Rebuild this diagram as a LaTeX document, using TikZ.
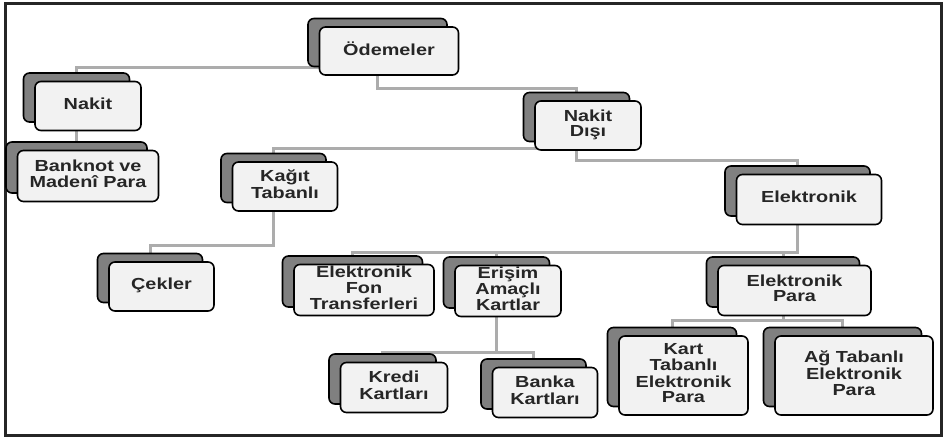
\documentclass[tikz,border=0pt]{standalone}
\usepackage{fontspec}
\setmainfont{Liberation Sans}
\usepackage{graphicx}
\usetikzlibrary{backgrounds}
\newcommand\tx[1]{\scalebox{1.24}[1]{\fontsize{16}{15.8}\selectfont\bfseries\begin{tabular}{@{}c@{}}#1\end{tabular}}}
\tikzset{
  backbox/.style={draw=black, line width=1.6pt, rounded corners=6pt, fill=black!50, inner sep=0pt},
  frontbox/.style={draw=black, line width=1.6pt, rounded corners=6pt, fill=black!5, inner sep=0pt, text=black!85},
  conn/.style={draw={rgb,255:red,172;green,172;blue,172}, line width=3pt},
  frame/.style={draw=black!85, line width=2.2pt}
}
\newcommand\mybox[6]{%
  \node[backbox, minimum width=#4pt, minimum height=#5pt] (#1) at (#2,#3) {};
  \node[frontbox, minimum width=#4pt, minimum height=#5pt] (#1-f) at ([xshift=11.5pt,yshift=-8.5pt]#1.center) {\tx{#6}};
}
\begin{document}
\begin{tikzpicture}[x=1pt,y=-1pt]
\useasboundingbox (0,0) rectangle (944,437);
\draw[frame] (5.5,3.5) rectangle (941.5,435.5);

\mybox{od}{377.5}{42.5}{139}{48}{Ödemeler}
\mybox{nakit}{76.5}{97.5}{106}{49}{Nakit}
\mybox{bank}{76.5}{167.5}{141}{51}{Banknot ve\\Madenî Para}
\mybox{kagit}{273.5}{178}{105}{49}{Kağıt\\Tabanlı}
\mybox{nd}{576.5}{117}{106}{49}{Nakit\\Dışı}
\mybox{elek}{797.5}{191}{145}{50}{Elektronik}
\mybox{cek}{150}{278}{105}{49}{Çekler}
\mybox{eft}{352.5}{281.5}{140}{51}{Elektronik\\Fon\\Transferleri}
\mybox{eris}{496.5}{282.5}{106}{51}{Erişim\\Amaçlı\\Kartlar}
\mybox{kredi}{382.5}{379}{107}{50}{Kredi\\Kartları}
\mybox{banka}{533.5}{384}{105}{50}{Banka\\Kartları}
\mybox{epara}{783}{282}{153}{50}{Elektronik\\Para}
\mybox{kart}{672}{367}{129}{79}{Kart\\Tabanlı\\Elektronik\\Para}
\mybox{ag}{842.5}{367}{158}{79}{Ağ Tabanlı\\Elektronik\\Para}

\begin{pgfonlayer}{background}
\draw[conn] (od.center) |- (nakit.center |- 0,67) -- (nakit.center);
\draw[conn] (od.center) |- (nd.center |- 0,88) -- (nd.center);
\draw[conn] (nakit.center) -- (bank.center);
\draw[conn] (nd.center) |- (kagit.center |- 0,148) -- (kagit.center);
\draw[conn] (nd.center) |- (elek.center |- 0,160) -- (elek.center);
\draw[conn] (kagit.center) |- (cek.center |- 0,245) -- (cek.center);
\draw[conn] (elek.center) |- (eft.center |- 0,252) -- (eft.center);
\draw[conn] (elek.center |- 0,252) -| (eris.center);
\draw[conn] (elek.center |- 0,252) -| (epara.center);
\draw[conn] (eris.center) |- (kredi.center |- 0,352) -- (kredi.center);
\draw[conn] (eris.center |- 0,352) -| (banka.center);
\draw[conn] (epara.center) |- (kart.center |- 0,320) -- (kart.center);
\draw[conn] (epara.center |- 0,320) -| (ag.center);
\end{pgfonlayer}
\end{tikzpicture}
\end{document}
